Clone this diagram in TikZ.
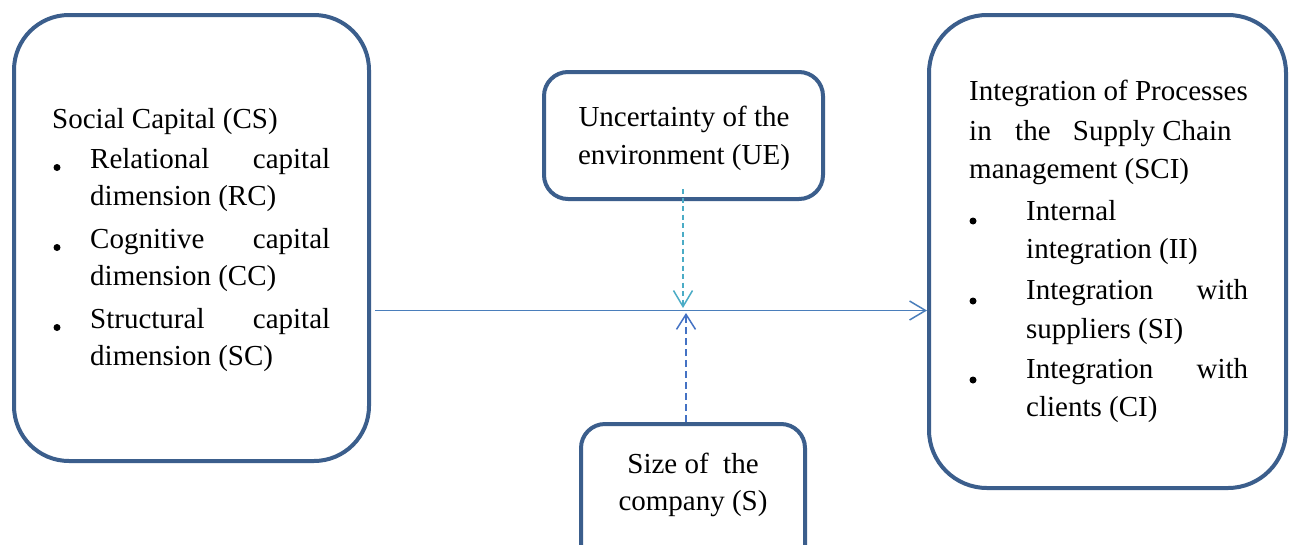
\documentclass[tikz,border=0pt]{standalone}
\usepackage{fontspec}
\setmainfont{Liberation Serif}
\usetikzlibrary{arrows.meta}
\definecolor{boxline}{HTML}{3B5E8C}
\definecolor{arrowblue}{HTML}{4A7EBB}
\definecolor{dashcyan}{HTML}{4BACC6}
\definecolor{dashblue}{HTML}{4472C4}
\tikzset{
  bigbox/.style={draw=boxline, line width=4pt, rounded corners=55pt, fill=white},
  smallbox/.style={draw=boxline, line width=4pt, rounded corners=24pt, fill=white},
  txt/.style={anchor=base west, inner sep=0pt, font=\fontsize{29}{38}\selectfont},
  ctxt/.style={anchor=base, inner sep=0pt, font=\fontsize{29}{38}\selectfont},
  bul/.style={fill=black, circle, inner sep=0pt, minimum size=7pt},
  tip/.style={-{Straight Barb[length=16pt,width=19pt,line width=1.5pt]}},
}
\begin{document}
\begin{tikzpicture}[x=1pt,y=-1pt]
\useasboundingbox[fill=white] (0,0) rectangle (1292,544);
% boxes
\draw[bigbox] (14,15) rectangle (369,461);
\node[inner sep=0pt, outer sep=2pt, minimum width=355pt, minimum height=446pt] (left) at (191.5,238) {};
\draw[bigbox, rounded corners=58pt] (929,15) rectangle (1286,488);
\node[inner sep=0pt, outer sep=2pt, minimum width=357pt, minimum height=473pt] (right) at (1107.5,251.5) {};
\draw[smallbox] (544,72) rectangle (823,199);
\node[inner sep=0pt, outer sep=2pt, minimum width=279pt, minimum height=127pt] (top) at (683.5,135.5) {};
\draw[smallbox] (581,424) rectangle (805,590);
\node[inner sep=0pt, outer sep=2pt, minimum width=224pt, minimum height=166pt] (bottom) at (693,507) {};

% left text
\node[txt] (cs) at (52,128) {Social Capital (CS)};
\node[bul] (lb1) at (57,167.5) {};
\node[txt] (rc1) at (90,168.3) {\hbox to 240pt{Relational\hfill capital}};
\node[txt] (rc2) at (90,205) {dimension (RC)};
\node[bul] (lb2) at (57,247.5) {};
\node[txt] (cc1) at (90,248.3) {\hbox to 240pt{Cognitive\hfill capital}};
\node[txt] (cc2) at (90,285) {dimension (CC)};
\node[bul] (lb3) at (57,327.5) {};
\node[txt] (sc1) at (90,328.3) {\hbox to 240pt{Structural\hfill capital}};
\node[txt] (sc2) at (90,365) {dimension (SC)};

% top and bottom text
\node[ctxt] (ue1) at (684,126) {Uncertainty of the};
\node[ctxt] (ue2) at (684,164) {environment (UE)};
\node[ctxt] (s1) at (693,473.3) {Size of\ \ the};
\node[ctxt] (s2) at (693,510) {company (S)};

% right text
\node[txt] (sci1) at (969,100) {Integration of Processes};
\node[txt] (sci2) at (969,140) {\makebox[46pt][l]{in}\makebox[57.7pt][l]{the}Supply Chain};
\node[txt] (sci3) at (969,178.3) {management (SCI)};
\node[bul] (rb1) at (973,221) {};
\node[txt] (ii1) at (1026,220) {Internal};
\node[txt] (ii2) at (1026,258.3) {integration (II)};
\node[bul] (rb2) at (973,301) {};
\node[txt] (si1) at (1026,299.3) {\hbox to 222pt{Integration\hfill with}};
\node[txt] (si2) at (1026,338.3) {suppliers (SI)};
\node[bul] (rb3) at (973,380) {};
\node[txt] (ci1) at (1026,378.3) {\hbox to 222pt{Integration\hfill with}};
\node[txt] (ci2) at (1026,416.7) {clients (CI)};

% connectors
\coordinate (hs) at (375,310.5);
\draw[arrowblue, line width=1.5pt, tip] (hs) -- (hs -| right.west);
\coordinate (m1) at (683,308);
\draw[dashcyan, line width=1.6pt, dash pattern=on 5pt off 3.5pt, tip] ([yshift=12pt]top.south -| m1) -- (m1);
\coordinate (m2) at (686,313);
\draw[dashblue, line width=2.8pt, dash pattern=on 7pt off 4pt, -{Straight Barb[length=15pt,width=19pt,line width=1.5pt]}] (m2 |- bottom.north) -- (m2);
\end{tikzpicture}
\end{document}
